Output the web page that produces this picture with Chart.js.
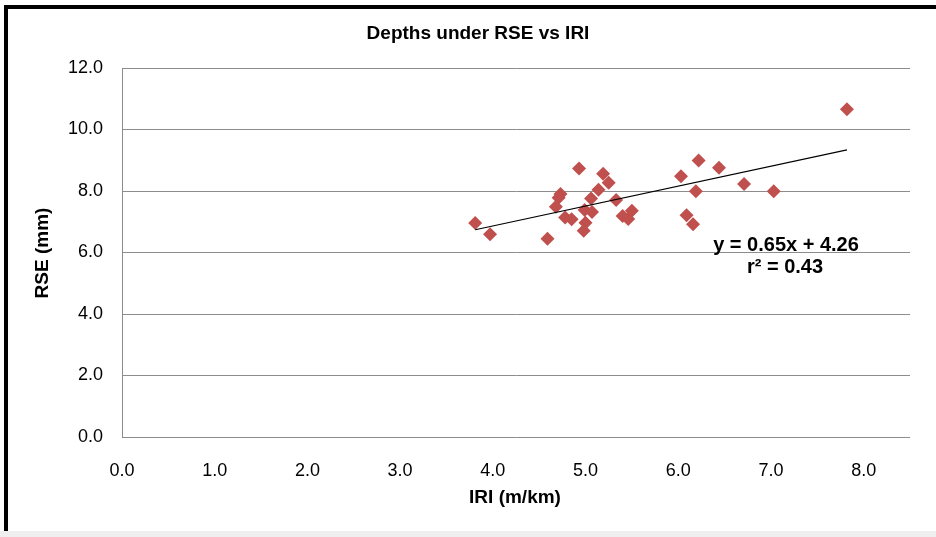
<!DOCTYPE html>
<html><head><meta charset="utf-8">
<script src="https://cdn.jsdelivr.net/npm/chart.js@4"></script>
<style>html,body{margin:0;padding:0;background:#fff}#wrap{width:936px;height:537px;position:relative}</style>
</head><body><div id="wrap"><canvas id="c" width="936" height="537"></canvas></div>
<script>
const chartTitle = 'Depths under RSE vs IRI';
const xTitle = 'IRI (m/km)';
const yTitle = 'RSE (mm)';
const eqText = 'y = 0.65x + 4.26';
const r2Text = 'r\u00B2 = 0.43';
const iriValues = [3.81,3.97,4.59,4.93,4.73,4.71,4.68,4.78,4.85,4.99,5.00,4.98,5.06,5.07,5.14,5.19,5.25,5.33,5.40,5.46,5.50,7.82,6.22,6.03,6.44,6.71,7.03,6.19,6.09,6.16];
const rseValues = [6.96,6.59,6.45,8.73,7.90,7.78,7.49,7.14,7.08,7.38,6.97,6.71,7.76,7.32,8.04,8.56,8.27,7.71,7.19,7.09,7.36,10.66,8.99,8.48,8.76,8.23,7.99,7.99,7.21,6.92];
const trendX = [3.81, 7.82];
const trendY = [6.74, 9.34];
const xTickValues = [0,1,2,3,4,5,6,7,8];
const yTickValues = [0,2,4,6,8,10,12];

const points = iriValues.map((x,i)=>({x:x, y:rseValues[i]}));
const trend = trendX.map((x,i)=>({x:x, y:trendY[i]}));
const FONT = '"Liberation Sans", Arial, sans-serif';

const decor = {
  id:'decor',
  beforeDraw(chart){
    const c = chart.ctx;
    c.save(); c.fillStyle='#fff'; c.fillRect(0,0,chart.width,chart.height); c.restore();
  },
  afterDraw(chart){
    const c = chart.ctx;
    c.save();
    c.fillStyle='#000';
    c.textAlign='center'; c.textBaseline='alphabetic';
    c.font='bold 19px '+FONT;
    c.fillText(chartTitle, 478, 39);
    c.font='bold 19px '+FONT;
    c.fillText(xTitle, 515, 503);
    c.save(); c.translate(48,253); c.rotate(-Math.PI/2); c.fillText(yTitle,0,0); c.restore();
    c.font='bold 20px '+FONT;
    c.fillText(eqText, 786, 251);
    c.fillText(r2Text, 785, 273);
    // frame
    c.fillStyle='#000';
    c.fillRect(4,5,932,4);
    c.fillRect(4,5,4,526);
    c.fillStyle='#efefef';
    c.fillRect(0,531,936,6);
    c.restore();
  }
};

new Chart(document.getElementById('c'), {
  type:'scatter',
  data:{datasets:[
    {type:'line', data:trend, borderColor:'#000', borderWidth:1.2, pointRadius:0, fill:false, order:0},
    {data:points, pointStyle:'rectRot', pointRadius:7, pointHoverRadius:7, backgroundColor:'#C0504D', borderColor:'#C0504D', borderWidth:0, order:1}
  ]},
  plugins:[decor],
  options:{
    responsive:false, animation:false,
    layout:{padding:{left:0, top:68, right:26, bottom:0}},
    plugins:{legend:{display:false}, tooltip:{enabled:false}, title:{display:false}},
    scales:{
      x:{type:'linear', min:0, max:8.5,
        afterBuildTicks(s){ s.ticks = xTickValues.map(v=>({value:v})); },
        afterFit(s){ s.height = 100; },
        grid:{display:false, drawTicks:false},
        border:{display:false},
        ticks:{color:'#000', font:{family:FONT, size:18}, padding:23, maxRotation:0, autoSkip:false, callback:v=>Number(v).toFixed(1)}
      },
      y:{type:'linear', min:0, max:12,
        afterBuildTicks(s){ s.ticks = yTickValues.map(v=>({value:v})); },
        afterFit(s){ s.width = 122; },
        grid:{color:'#8c8c8c', lineWidth:1, drawTicks:false},
        border:{display:true, color:'#8c8c8c', width:1},
        ticks:{color:'#000', font:{family:FONT, size:18}, padding:19, autoSkip:false, callback:v=>Number(v).toFixed(1)}
      }
    }
  }
});
</script>
</body></html>
